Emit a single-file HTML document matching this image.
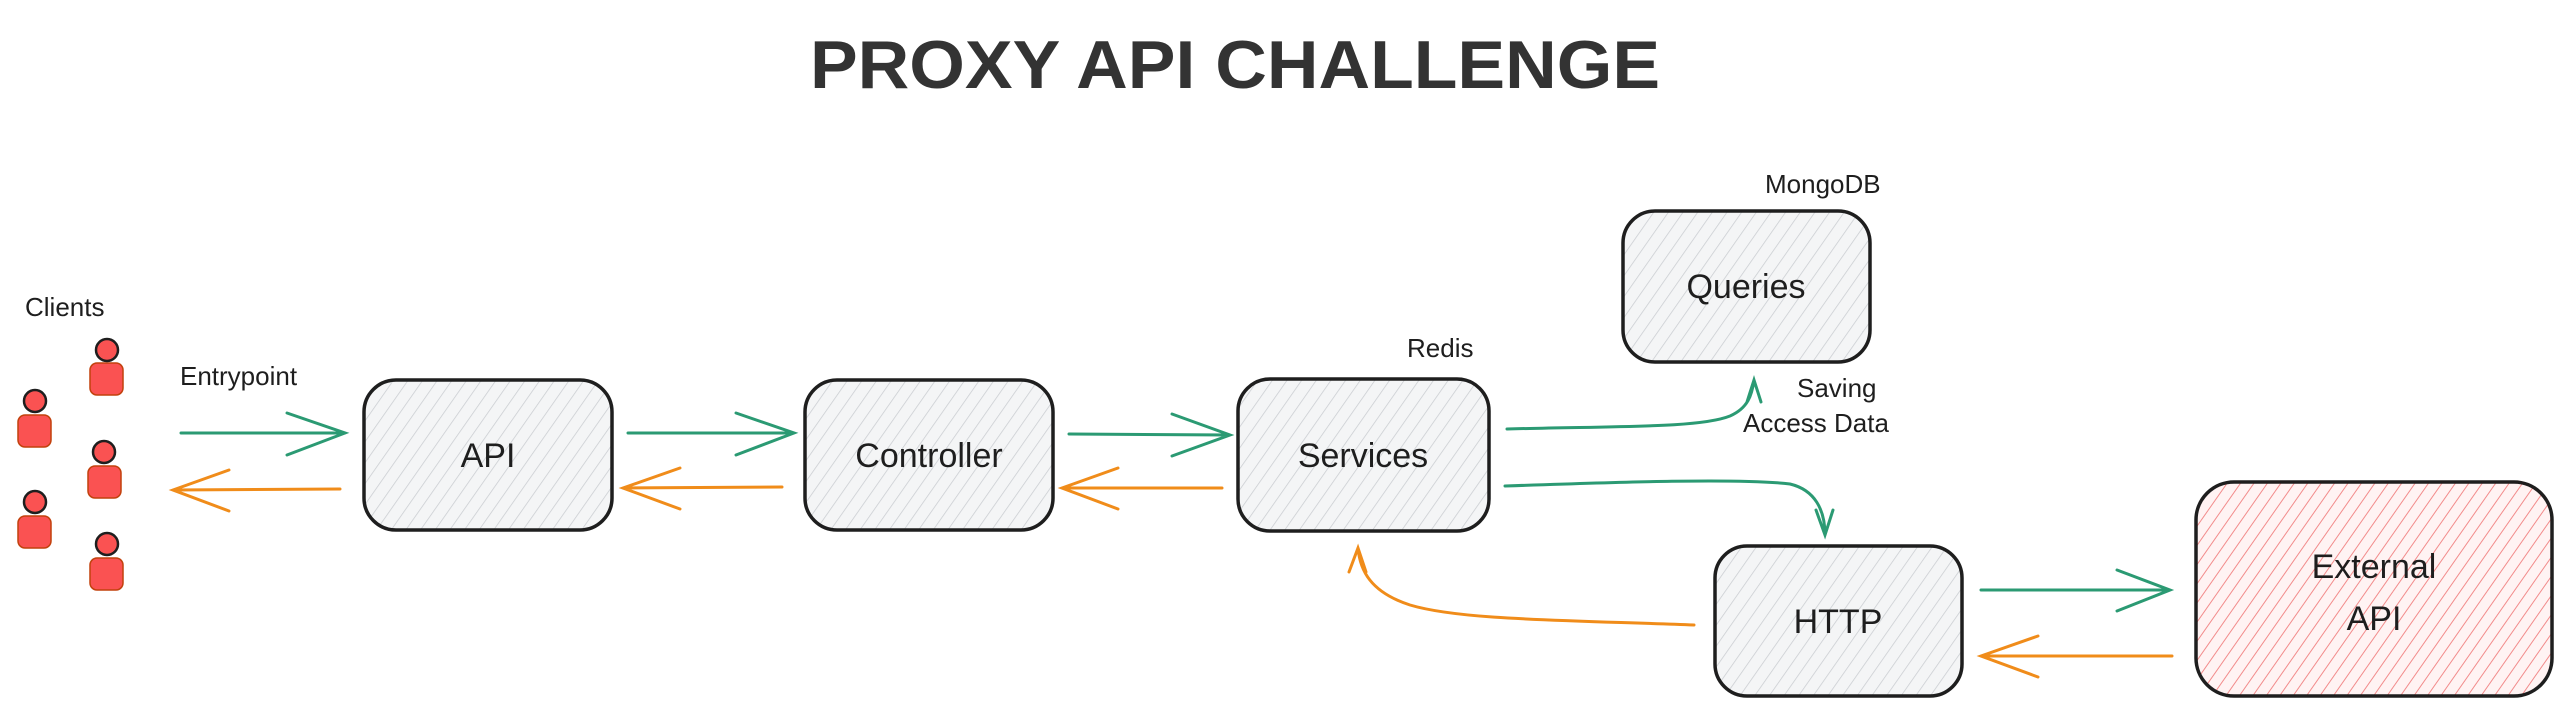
<!DOCTYPE html>
<html><head><meta charset="utf-8"><style>
html,body{margin:0;padding:0;background:#fff;}
svg{display:block;}
text{font-family:"Liberation Sans",sans-serif;fill:#1e1e1e;}
</style></head><body>
<svg width="2571" height="716" viewBox="0 0 2571 716" xmlns="http://www.w3.org/2000/svg">
<defs>
<pattern id="hg" width="12" height="12" patternUnits="userSpaceOnUse" patternTransform="rotate(35)">
<rect width="12" height="12" fill="#f4f5f6"/>
<line x1="0" y1="0" x2="0" y2="12" stroke="#c9ccd0" stroke-width="1.5"/>
</pattern>
<pattern id="hr" width="11" height="11" patternUnits="userSpaceOnUse" patternTransform="rotate(35)">
<rect width="11" height="11" fill="#fff3f3"/>
<line x1="0" y1="0" x2="0" y2="11" stroke="#f28b8b" stroke-width="2"/>
</pattern>
</defs>

<text x="1235" y="88" font-size="68" font-weight="bold" text-anchor="middle" fill="#333" textLength="850" lengthAdjust="spacingAndGlyphs" style="fill:#333">PROXY API CHALLENGE</text>

<g stroke="#1e1e1e" stroke-width="3.5">
<rect x="364" y="380" width="248" height="150" rx="32" fill="url(#hg)"/>
<rect x="805" y="380" width="248" height="150" rx="32" fill="url(#hg)"/>
<rect x="1238" y="379" width="251" height="152" rx="32" fill="url(#hg)"/>
<rect x="1623" y="211" width="247" height="151" rx="32" fill="url(#hg)"/>
<rect x="1715" y="546" width="247" height="150" rx="32" fill="url(#hg)"/>
<rect x="2196" y="482" width="356" height="214" rx="38" fill="url(#hr)"/>
</g>

<g font-size="34" text-anchor="middle">
<text x="488" y="467">API</text>
<text x="929" y="467">Controller</text>
<text x="1363" y="467">Services</text>
<text x="1746" y="298">Queries</text>
<text x="1838" y="633">HTTP</text>
<text x="2374" y="578">External</text>
<text x="2374" y="630">API</text>
</g>

<g font-size="26">
<text x="25" y="316">Clients</text>
<text x="180" y="385">Entrypoint</text>
<text x="1407" y="357">Redis</text>
<text x="1765" y="193">MongoDB</text>
<text x="1797" y="397">Saving</text>
<text x="1743" y="432">Access Data</text>
</g>

<g fill="#fa5252" stroke="#c2410c" stroke-width="1.5">
<rect x="90" y="363" width="33" height="32" rx="7"/>
<rect x="18" y="415" width="33" height="32" rx="7"/>
<rect x="88" y="466" width="33" height="32" rx="7"/>
<rect x="18" y="516" width="33" height="32" rx="7"/>
<rect x="90" y="558" width="33" height="32" rx="7"/>
</g>
<g fill="#fa5252" stroke="#1e1e1e" stroke-width="2.5">
<circle cx="107" cy="350" r="11"/>
<circle cx="35" cy="401" r="11"/>
<circle cx="104" cy="452" r="11"/>
<circle cx="35" cy="502" r="11"/>
<circle cx="107" cy="544" r="11"/>
</g>

<g fill="none" stroke="#2b9a73" stroke-width="3" stroke-linecap="round">
<path d="M181 433 L345 433 M287 413 L345 433 L287 455"/>
<path d="M628 433 L794 433 M736 413 L794 433 L736 455"/>
<path d="M1069 434 L1230 435 M1172 414 L1230 435 L1172 456"/>
<path d="M1507 429 C1620 426 1700 428 1730 416 C1748 408 1752 395 1754 380 M1747 402 L1754 380 L1761 402"/>
<path d="M1505 486 C1620 482 1740 478 1790 484 C1815 490 1825 510 1825 535 M1816 510 L1825 535 L1833 510"/>
<path d="M1981 590 L2170 590 M2117 570 L2170 590 L2117 611"/>
</g>
<g fill="none" stroke="#f08c1a" stroke-width="3" stroke-linecap="round">
<path d="M340 489 L173 490 M229 470 L173 490 L229 511"/>
<path d="M782 487 L623 488 M680 468 L623 488 L680 509"/>
<path d="M1222 488 L1062 488 M1118 468 L1062 488 L1118 509"/>
<path d="M1694 625 C1560 620 1460 620 1410 605 C1370 592 1360 570 1358 548 M1349 572 L1358 548 L1366 572"/>
<path d="M2172 656 L1981 656 M2038 636 L1981 656 L2038 677"/>
</g>
</svg>
</body></html>
